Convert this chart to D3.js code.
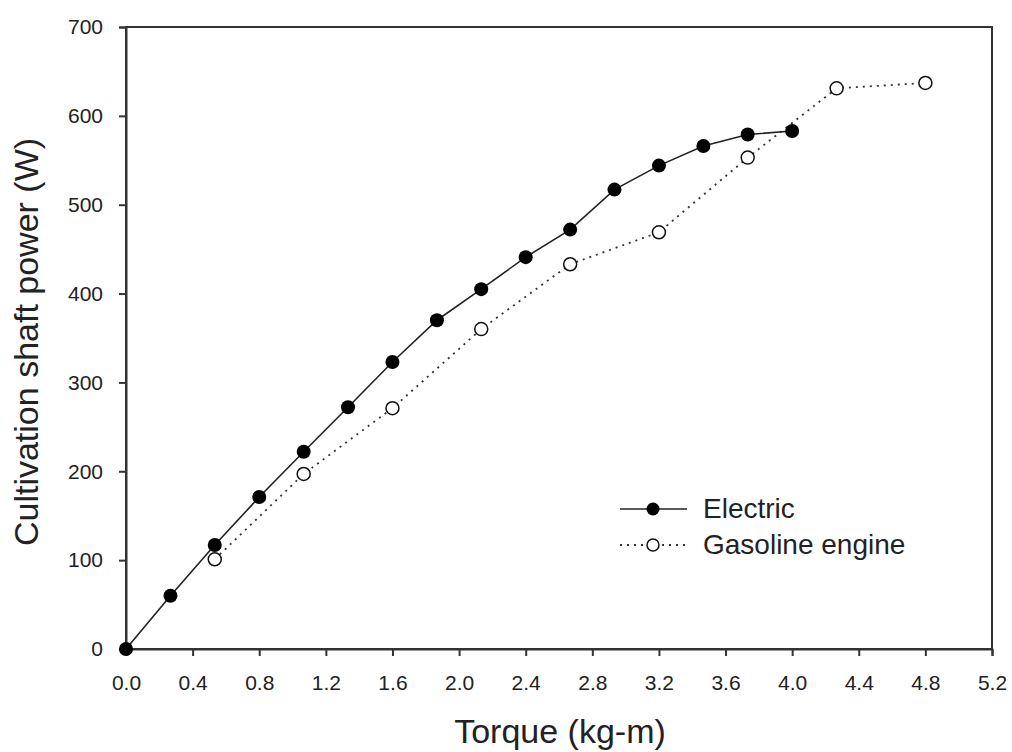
<!DOCTYPE html>
<html>
<head>
  <meta charset="utf-8">
  <script src="https://d3js.org/d3.v7.min.js"></script>
  <style>
    body { margin: 0; background: #fff; }
    svg { font-family: "Liberation Sans", Arial, sans-serif; }
    .axis path, .axis line { stroke: #333; stroke-width: 2px; }
    .frame { fill: none; stroke: #333; stroke-width: 2px; }
    .title { font-size: 34px; fill: #222; }
    .legend text { font-size: 28px; fill: #222; }
  </style>
</head>
<body>
  <svg></svg>
  <script>
    // data
    var electricX = [0, 0.267, 0.533, 0.8, 1.067, 1.333, 1.6, 1.867, 2.133, 2.4, 2.667, 2.933, 3.2, 3.467, 3.733, 4.0];
    var electricY = [0, 60, 117, 171, 222, 272, 323, 370, 405, 441, 472, 517, 544, 566, 579, 583];
    var gasolineX = [0.533, 1.067, 1.6, 2.133, 2.667, 3.2, 3.733, 4.267, 4.8];
    var gasolineY = [101, 197, 271, 360, 433, 469, 553, 631, 637];
    var xTicks = [0, 0.4, 0.8, 1.2, 1.6, 2.0, 2.4, 2.8, 3.2, 3.6, 4.0, 4.4, 4.8, 5.2];
    var yTicks = [0, 100, 200, 300, 400, 500, 600, 700];

    var svgWidth = 1012, svgHeight = 752,
      margin = { top: 27, right: 20, bottom: 103, left: 126 },
      width = 992 - margin.left,
      height = 649 - margin.top;

    var svg = d3.select("svg").attr("width", svgWidth).attr("height", svgHeight);
    var g = svg.append("g").attr("transform", "translate(" + [margin.left, margin.top] + ")");

    var x = d3.scaleLinear().domain([0, 5.2]).range([0, width]);
    var y = d3.scaleLinear().domain([0, 700]).range([height, 0]);

    g.append("rect").classed("frame", true)
      .attr("width", width).attr("height", height);

    var xAxis = g.append("g").classed("axis", true)
      .attr("transform", "translate(0," + height + ")")
      .call(d3.axisBottom(x).tickValues(xTicks).tickFormat(d3.format(".1f")).tickSize(7).tickPadding(19));

    var yAxis = g.append("g").classed("axis", true)
      .call(d3.axisLeft(y).tickValues(yTicks).tickFormat(d3.format("d")).tickSize(7).tickPadding(16));

    [xAxis, yAxis].forEach(function (a) {
      a.attr("font-size", 21).attr("font-family", null);
      a.selectAll(".tick text").attr("fill", "#222");
    });

    svg.append("text").classed("title", true)
      .attr("text-anchor", "middle")
      .attr("transform", "translate(" + [560, 743] + ")")
      .text("Torque (kg-m)");

    svg.append("text").classed("title", true)
      .attr("text-anchor", "middle")
      .attr("transform", "translate(" + [38, 342] + ") rotate(-90)")
      .text("Cultivation shaft power (W)");

    var line = d3.line().x(function (d) { return x(d[0]); }).y(function (d) { return y(d[1]); });
    var electric = d3.zip(electricX, electricY);
    var gasoline = d3.zip(gasolineX, gasolineY);

    g.append("path").datum(gasoline)
      .attr("d", line).attr("fill", "none")
      .attr("stroke", "#333").attr("stroke-width", 1.8).attr("stroke-dasharray", "2,5");
    g.append("path").datum(electric)
      .attr("d", line).attr("fill", "none")
      .attr("stroke", "#222").attr("stroke-width", 1.6);

    g.selectAll(".ge").data(gasoline).enter().append("circle")
      .attr("cx", function (d) { return x(d[0]); }).attr("cy", function (d) { return y(d[1]); })
      .attr("r", 6.5).attr("fill", "#fff").attr("stroke", "#111").attr("stroke-width", 1.5);
    g.selectAll(".el").data(electric).enter().append("circle")
      .attr("cx", function (d) { return x(d[0]); }).attr("cy", function (d) { return y(d[1]); })
      .attr("r", 7).attr("fill", "#000");

    // legend
    var legend = svg.append("g").classed("legend", true);
    legend.append("line").attr("x1", 620).attr("x2", 687).attr("y1", 509).attr("y2", 509)
      .attr("stroke", "#222").attr("stroke-width", 1.6);
    legend.append("circle").attr("cx", 653).attr("cy", 509).attr("r", 6.5).attr("fill", "#000");
    legend.append("text").attr("x", 703).attr("y", 518).text("Electric");
    legend.append("line").attr("x1", 620).attr("x2", 687).attr("y1", 545).attr("y2", 545)
      .attr("stroke", "#333").attr("stroke-width", 1.8).attr("stroke-dasharray", "2,5");
    legend.append("circle").attr("cx", 653).attr("cy", 545).attr("r", 6)
      .attr("fill", "#fff").attr("stroke", "#111").attr("stroke-width", 1.5);
    legend.append("text").attr("x", 703).attr("y", 554).text("Gasoline engine");
  </script>
</body>
</html>
